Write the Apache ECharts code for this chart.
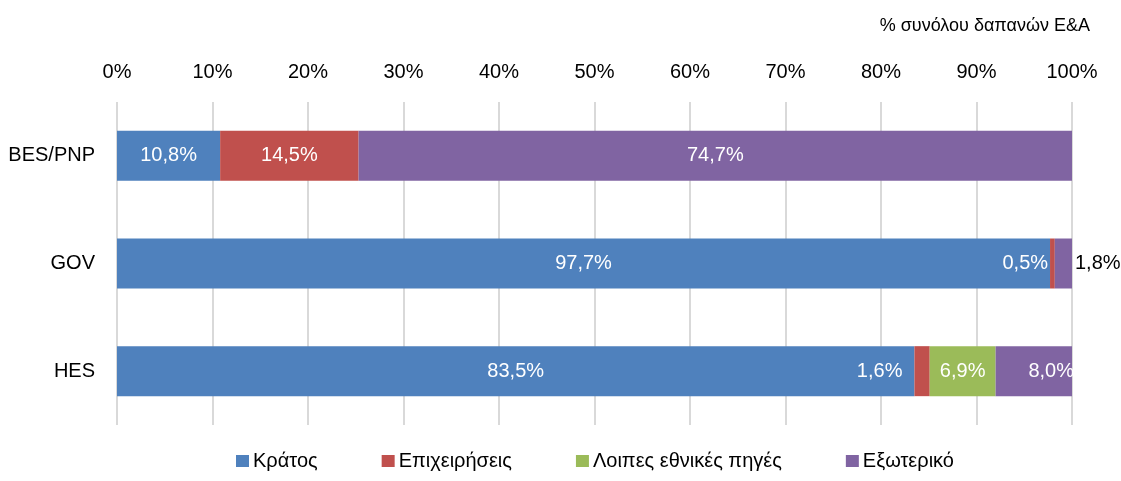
<!DOCTYPE html>
<html>
<head>
<meta charset="utf-8">
<script src="https://cdn.jsdelivr.net/npm/echarts@6/dist/echarts.min.js"></script>
<style>
html, body { margin: 0; padding: 0; background: #fff; }
#chart { width: 1121px; height: 481px; }
</style>
</head>
<body>
<div id="chart"></div>
<script>
const categories = ['BES/PNP', 'GOV', 'HES']
const seriesNames = ['Κράτος', 'Επιχειρήσεις', 'Λοιπες εθνικές πηγές', 'Εξωτερικό']
const kratos = [10.8, 97.7, 83.5]
const epixeiriseis = [14.5, 0.5, 1.6]
const loipes = [0, 0, 6.9]
const exoteriko = [74.7, 1.8, 8.0]
const colors = ['#4F81BD', '#C0504D', '#9BBB59', '#8064A2']

const FONT = '"Liberation Sans", Arial, sans-serif'

let fmt = (p) => p.value.toFixed(1).replace('.', ',') + '%'

// per-point label tweaks for the small segments
let labelFor = (seriesIdx, catIdx) => {
    if (seriesIdx === 1 && catIdx === 1) return { position: 'left', distance: 2 }
    if (seriesIdx === 1 && catIdx === 2) return { position: 'left', distance: 12 }
    if (seriesIdx === 3 && catIdx === 1) return { position: 'right', distance: 3, color: '#000' }
    if (seriesIdx === 3 && catIdx === 2) return { position: 'insideRight', distance: -2 }
    return {}
}

let makeSeries = (name, values, idx) => ({
    name: name,
    type: 'bar',
    stack: 'total',
    barWidth: 50,
    itemStyle: { color: colors[idx] },
    label: {
        show: true,
        position: 'inside',
        color: '#fff',
        fontFamily: FONT,
        fontSize: 20,
        formatter: fmt
    },
    data: values.map((v, i) => ({
        value: v,
        label: v === 0 ? { show: false } : labelFor(idx, i)
    }))
})

let chart = echarts.init(document.getElementById('chart'))
chart.setOption({
    animation: false,
    textStyle: { fontFamily: FONT },
    title: {
        text: '% συνόλου δαπανών Ε&A',
        right: 26,
        top: 12,
        textStyle: { fontFamily: FONT, fontSize: 18, fontWeight: 'normal', color: '#000' }
    },
    legend: {
        bottom: 5,
        left: 231,
        itemWidth: 13,
        itemHeight: 12,
        itemGap: 64,
        icon: 'rect',
        textStyle: { fontFamily: FONT, fontSize: 20, color: '#000', padding: [0, 0, 0, -1] },
        data: seriesNames
    },
    grid: {
        left: 117,
        right: 49,
        top: 102,
        bottom: 56
    },
    xAxis: {
        type: 'value',
        position: 'top',
        min: 0,
        max: 100,
        interval: 10,
        axisLine: { show: false },
        axisTick: { show: false },
        splitLine: { lineStyle: { color: '#d9d9d9', width: 2 } },
        axisLabel: {
            formatter: '{value}%',
            fontFamily: FONT,
            fontSize: 20,
            color: '#000',
            margin: 20
        }
    },
    yAxis: {
        type: 'category',
        inverse: true,
        data: categories,
        axisLine: { show: false },
        axisTick: { show: false },
        axisLabel: { fontFamily: FONT, fontSize: 20, color: '#000', margin: 22 }
    },
    series: [
        makeSeries(seriesNames[0], kratos, 0),
        makeSeries(seriesNames[1], epixeiriseis, 1),
        makeSeries(seriesNames[2], loipes, 2),
        makeSeries(seriesNames[3], exoteriko, 3)
    ]
})
</script>
</body>
</html>
